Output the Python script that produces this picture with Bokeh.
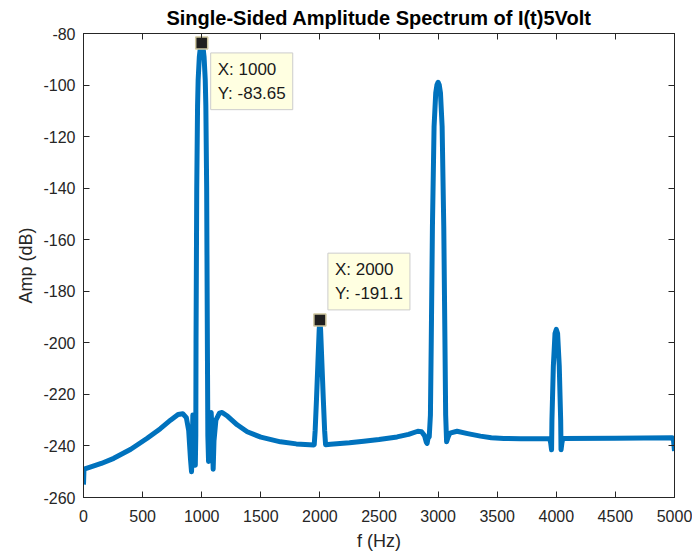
from bokeh.plotting import figure
from bokeh.models import Range1d, LinearAxis, FixedTicker, Label, CustomJSTickFormatter
from bokeh.embed import file_html
from bokeh.resources import INLINE

# ---- data ----
freq_hz = [0, 4, 50, 150, 256, 400, 539, 650, 736, 800, 840, 870, 890, 905, 914, 920, 925,
           938, 946, 950, 952, 958, 965, 970, 980, 990, 1000, 1010, 1020, 1030, 1035, 1042,
           1048, 1052, 1058, 1068, 1080, 1090, 1097, 1104, 1120, 1150, 1173, 1220, 1300,
           1385, 1500, 1667, 1800, 1950, 1952, 1960, 1971, 1983, 1994, 2000, 2006, 2017,
           2029, 2040, 2048, 2090, 2250, 2371, 2500, 2653, 2750, 2828, 2860, 2885, 2900,
           2907, 2915, 2925, 2935, 2942, 2952, 2966, 2980, 2990, 3000, 3010, 3020, 3034,
           3048, 3058, 3064, 3072, 3085, 3100, 3160, 3250, 3358, 3450, 3556, 3700, 3945,
           3953, 3960, 3963, 3975, 3989, 4000, 4011, 4025, 4037, 4040, 4047, 4055, 4500,
           4980, 4992, 5000]
amp_db = [-255, -249, -248.3, -246.8, -244.8, -241.3, -237, -233.3, -230, -227.8, -227.5,
          -229, -234, -245, -250, -243, -228, -233, -247.5, -236, -200, -140, -108, -98,
          -89, -85, -83.65, -85, -89, -98, -108, -140, -200, -236, -246, -236, -227,
          -236, -249, -238, -230, -227.3, -227, -228.5, -231.8, -234.5, -236.6, -238.4,
          -239.2, -239.6, -239.5, -234, -222, -208, -195, -191.1, -195, -208, -222, -234,
          -239.5, -239.3, -238.8, -238.2, -237.5, -236.5, -235.5, -234.3, -234.5, -236,
          -238.5, -239, -237, -236.5, -228, -200, -155, -116, -103, -100, -98.9, -100, -103,
          -116, -155, -200, -228, -238.4, -236.5, -235, -234.3, -235.2, -236.2, -236.8,
          -237.1, -237.2, -237.2, -239, -241.5, -230, -209, -196.4, -194.8, -196.4, -209,
          -230, -241.5, -239, -237.1, -237, -236.8, -238, -242]

tip_x = [1000, 2000]
tip_y = [-83.65, -191.1]
tip_text = ["X: 1000\nY: -83.65", "X: 2000\nY: -191.1"]

x_ticks = [0, 500, 1000, 1500, 2000, 2500, 3000, 3500, 4000, 4500, 5000]
y_ticks = [-260, -240, -220, -200, -180, -160, -140, -120, -100, -80]

title_text = "Single-Sided Amplitude Spectrum of I(t)5Volt"
x_label = "f (Hz)"
y_label = "Amp (dB)"

# ---- figure ----
AX = "#262626"
FONT = "Liberation Sans"

p = figure(width=692, height=556, output_backend="svg", toolbar_location=None,
           x_range=Range1d(0, 5000), y_range=Range1d(-260, -80),
           min_border_left=83, min_border_right=18, min_border_top=33, min_border_bottom=59)
p.background_fill_color = "white"
p.border_fill_color = "white"
p.outline_line_color = AX
p.outline_line_width = 1
p.xgrid.visible = False
p.ygrid.visible = False

p.title.text = title_text
p.title.align = "center"
p.title.text_font = FONT
p.title.text_font_size = "20px"
p.title.text_font_style = "bold"
p.title.text_color = "#000000"
p.title.standoff = 9

p.xaxis.axis_label = x_label
p.yaxis.axis_label = y_label

plain_fmt = CustomJSTickFormatter(code="return tick.toString();")
blank_fmt = CustomJSTickFormatter(code="return '';")

def style_axis(ax, ticks, show_labels=True):
    ax.ticker = FixedTicker(ticks=ticks)
    ax.major_tick_in = 6
    ax.major_tick_out = 0
    ax.minor_tick_line_color = None
    ax.axis_line_color = AX
    ax.major_tick_line_color = AX
    ax.major_label_text_font = FONT
    ax.major_label_text_color = AX
    ax.axis_label_text_font = FONT
    ax.axis_label_text_font_style = "normal"
    ax.axis_label_text_color = AX
    ax.axis_label_text_font_size = "18px"
    ax.major_label_text_font_size = "16px"
    if show_labels:
        ax.formatter = plain_fmt
    else:
        ax.formatter = blank_fmt
        ax.major_label_standoff = 0

style_axis(p.xaxis[0], x_ticks)
style_axis(p.yaxis[0], y_ticks)
p.xaxis[0].major_label_standoff = 12
p.yaxis[0].major_label_standoff = 8
p.xaxis[0].axis_label_standoff = 6
p.yaxis[0].axis_label_standoff = 4

ax_top = LinearAxis()
style_axis(ax_top, x_ticks, show_labels=False)
p.add_layout(ax_top, "above")
ax_right = LinearAxis()
style_axis(ax_right, y_ticks, show_labels=False)
p.add_layout(ax_right, "right")

p.line(freq_hz, amp_db, line_color="#0072BD", line_width=5, line_join="round")

p.scatter(tip_x, tip_y, marker="square", size=12, fill_color="#1F1F1F",
          line_color="#CFC7A0", line_width=1.5)

offsets = [(9, -10, "top_left"), (8, 10, "bottom_left")]
for xv, yv, txt, (dx, dy, anc) in zip(tip_x, tip_y, tip_text, offsets):
    lab = Label(x=xv, y=yv, x_offset=dx, y_offset=dy, text=txt, anchor=anc,
                text_font=FONT, text_font_size="17px", text_color="#1A1A1A",
                text_line_height=1.25,
                background_fill_color="#FFFFE1", background_fill_alpha=1.0,
                border_line_color="#CCCCCC", border_line_width=1,
                padding=7)
    p.add_layout(lab)

open("out.html", "w").write(file_html(p, INLINE))
